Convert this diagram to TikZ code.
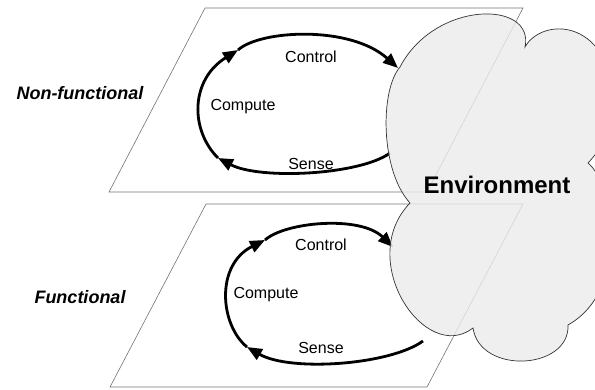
\documentclass[tikz,border=0pt]{standalone}
\usepackage{fontspec}
\setmainfont{Liberation Sans}
\usetikzlibrary{arrows.meta}

\begin{document}
\begin{tikzpicture}[x=1pt, y=-1pt,
    plane/.style={draw=black!55, line width=0.6pt},
    flow/.style={draw, line width=2.8pt, -{Triangle[length=15pt, width=12pt]}},
    step label/.style={font=\fontsize{16}{18}\selectfont},
    layer/.style={font=\fontsize{18}{20}\selectfont\bfseries\itshape}]
\useasboundingbox (0,0) rectangle (595,389);
\path [plane] (205,8) -- (523,8) -- (427,192) -- (109,192) -- cycle;
\path [plane] (206,204) -- (523,204) -- (427,387) -- (110,387) -- cycle;
\node [layer] (nf) at (80,93) {Non-functional};
\node [layer] (fn) at (80,297) {Functional};
\coordinate (ns) at (390,153);
\coordinate (nl) at (218,158);
\coordinate (nu) at (238,50);
\coordinate (ne) at (398,68);
\coordinate (fs) at (423,341);
\coordinate (fl) at (247,347);
\coordinate (fu) at (265,240);
\coordinate (fe) at (393,247);
\path [flow] (ns) .. controls (360,175) and (260,180) .. (nl);
\path [flow] (nl) .. controls (190,130) and (190,80) .. (nu);
\path [flow] (nu) .. controls (260,30) and (350,25) .. (ne);
\path [flow] (fs) .. controls (390,365) and (290,372) .. (fl);
\path [flow] (fl) .. controls (220,325) and (215,265) .. (fu);
\path [flow] (fu) .. controls (285,222) and (360,215) .. (fe);
\node [step label] (nctl) at (311,57) {Control};
\node [step label] (ncmp) at (243,107) {Compute};
\node [step label] (nsen) at (311,164) {Sense};
\node [step label] (fctl) at (321,245) {Control};
\node [step label] (fcmp) at (266,295) {Compute};
\node [step label] (fsen) at (321,348) {Sense};
\begin{scope}
\clip (0,0) rectangle (595,389);
\path [draw=black!80, line width=0.7pt, fill=black!8, fill opacity=0.82]
    (410,203) .. controls (380,170) and (380,90) .. (400,67)
    .. controls (435,0) and (535,0) .. (525,47)
    .. controls (540,20) and (600,15) .. (615,90)
    .. controls (615,130) and (600,150) .. (588,163)
    .. controls (615,185) and (630,290) .. (568,325)
    .. controls (570,370) and (480,375) .. (473,328)
    .. controls (425,365) and (355,260) .. (410,203) -- cycle;
\end{scope}
\node [font=\fontsize{24}{28}\selectfont\bfseries] (env) at (497,185) {Environment};
\end{tikzpicture}
\end{document}
